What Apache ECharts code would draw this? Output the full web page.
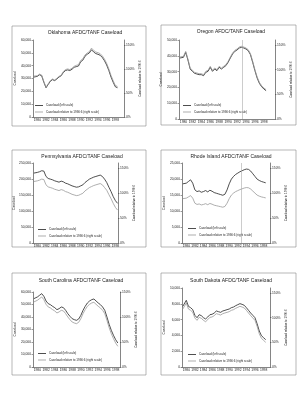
<!DOCTYPE html>
<html><head><meta charset="utf-8">
<script src="https://cdn.jsdelivr.net/npm/echarts@6/dist/echarts.min.js"></script>
<style>html,body{margin:0;padding:0;background:#fff}#c{width:305px;height:400px}</style>
</head><body><div id="c"></div>
<script>
// ---- data ----
const years = [1979.2,1980,1980.5,1981,1981.5,1982,1982.5,1983,1983.5,1984,1984.5,1985,1985.5,1986,1986.5,1987,1987.5,1988,1988.5,1989,1989.5,1990,1990.5,1991,1991.5,1992,1992.5,1993,1993.5,1994,1994.5,1995,1995.5,1996,1996.5,1997,1997.5,1998,1998.5];
const tickYears = [1980,1982,1984,1986,1988,1990,1992,1994,1996,1998];
const seriesNames = ['Caseload (left scale)','Caseload relative to 1990:6 (right scale)'];
const titles = ['Oklahoma AFDC/TANF Caseload','Oregon AFDC/TANF Caseload','Pennsylvania AFDC/TANF Caseload','Rhode Island AFDC/TANF Caseload','South Carolina AFDC/TANF Caseload','South Dakota AFDC/TANF Caseload'];

const okCaseload = [31100,31650,32900,32150,27100,22800,25300,27850,29100,28350,29600,31150,32150,34700,36200,36700,36200,37200,38750,39250,39750,43050,44300,47350,48850,49900,52400,50650,49400,48850,48100,46350,43800,40500,36200,31150,27100,23550,22800];
const okRelative = [85.0,85.7,89.1,87.1,73.6,62.1,68.9,75.6,79.0,77.0,80.3,84.4,87.1,94.5,98.6,99.9,98.6,101.3,105.3,107.3,108.7,117.5,120.8,128.9,133.0,135.7,143.1,138.4,135.0,133.7,131.6,126.9,120.2,111.4,99.9,86.4,75.6,65.5,63.5];

const orCaseload = [38600,39040,42200,37350,31650,30170,28910,28490,28060,28060,27430,29540,30170,32710,30170,31650,30600,32710,31650,32710,33760,35870,38610,41150,42830,43680,44940,45370,44940,44310,43260,40720,35870,30600,25950,22580,20470,18990,17940];
const orRelative = [125.6,126.9,137.0,121.5,103.3,98.6,94.5,93.2,91.8,91.8,89.8,96.5,98.6,106.7,98.6,103.3,99.9,106.7,103.3,106.7,110.0,116.8,125.6,133.7,139.1,141.8,145.8,147.2,145.8,143.8,140.4,132.3,116.8,99.9,85.1,74.3,67.5,62.8,59.4];

const paCaseload = [218500,220600,222700,225800,224800,208000,201700,199600,197500,194300,192200,190100,193300,191200,187000,184900,181700,178600,176500,174400,175400,178600,181700,189100,194300,199600,202700,205900,208000,210100,212200,208000,199600,189100,174400,160700,145000,132400,123900];
const paRelative = [123.0,124.3,125.7,127.7,127.0,116.3,112.2,110.9,109.5,107.5,106.2,104.8,106.8,105.5,102.8,101.5,99.5,97.4,96.1,94.8,95.4,97.4,99.5,104.2,107.5,110.9,112.9,114.9,116.3,117.6,118.9,116.3,110.9,105.5,96.8,88.7,79.3,71.2,65.9];

const riCaseload = [18490,18700,19220,19750,18700,16600,16070,16280,15860,16070,16390,15970,16490,16180,15760,15550,15340,15130,14920,15230,16600,18490,19960,20800,21430,21850,22270,22580,22900,23110,23000,22480,21640,20800,19960,19540,19220,19010,18800];
const riRelative = [88.7,89.7,92.2,94.8,89.7,79.6,77.1,78.1,76.1,77.1,78.6,76.6,79.1,77.6,75.6,74.6,73.6,72.6,71.6,73.1,79.6,88.7,95.8,99.8,102.8,104.8,106.8,108.4,109.9,110.9,110.4,107.9,103.8,99.8,95.8,93.7,92.2,91.2,90.2];

const scCaseload = [54670,56010,57340,58670,56540,52810,50670,49870,48540,47470,45870,46670,48010,47470,45340,42670,40540,38670,37870,37340,38400,41340,45340,48540,51210,52810,53870,54410,52810,51210,49870,48010,45340,40010,34140,29340,25340,21870,19200];
const scRelative = [130.1,133.4,136.7,140.1,134.7,125.4,120.1,118.1,114.7,112.1,108.1,110.1,113.4,112.1,106.7,100.1,94.7,90.0,88.0,86.7,89.4,96.7,106.7,114.7,121.4,125.4,128.1,129.4,125.4,121.4,118.1,113.4,106.7,93.4,78.7,66.7,56.7,48.0,41.4];

const sdCaseload = [7680,8440,7680,7510,7260,6540,6240,6620,6500,6240,6080,6330,6620,6670,6830,7090,7000,6920,7090,7170,7260,7340,7510,7590,7760,7890,8020,7930,7810,7510,7170,6830,6540,6240,5480,4560,3970,3710,3460];
const sdRelative = [117.5,129.6,117.5,114.8,110.7,99.2,94.5,100.6,98.6,94.5,91.8,95.9,100.6,101.3,104.0,108.0,106.7,105.3,108.0,109.4,110.7,112.1,114.8,116.1,118.8,120.8,122.9,121.5,119.5,114.8,109.4,104.0,99.2,94.5,82.4,67.5,58.1,54.0,50.0];

const caseloads = [okCaseload, orCaseload, paCaseload, riCaseload, scCaseload, sdCaseload];
const relatives = [okRelative, orRelative, paRelative, riRelative, scRelative, sdRelative];
const leftMax = [60000, 50000, 250000, 25000, 60000, 10000];
const leftStep = [10000, 10000, 50000, 5000, 10000, 2000];
const rightMax = [160, 160, 160, 160, 150, 160];
const xMax = [2000, 2000.5, 1998.6, 1999.5, 1999, 1999.5];
const refLine = [null, 1993.1, null, 1992.8, null, null];

// ---- layout ----
const FONT = 'Liberation Sans, Arial, sans-serif';
const layout = [
  {grid:{left:33,top:40,width:91,height:77}, box:[12,26,134,100], title:[85,32.5], legend:[35,104], ln:13, rn:14},
  {grid:{left:179,top:40,width:96,height:79}, box:[161,25,135,100], title:[231,31.7], legend:[183,104], ln:12, rn:13},
  {grid:{left:33,top:163,width:85,height:80}, box:[12,150,134,97], title:[82,156.7], legend:[38,228], ln:13, rn:13.5},
  {grid:{left:182,top:163,width:88,height:80}, box:[161,150,135,97], title:[231,156.7], legend:[188,227], ln:14.5, rn:12},
  {grid:{left:33,top:292,width:87,height:75}, box:[12,273,134,102], title:[81,281], legend:[38,352], ln:13, rn:11},
  {grid:{left:182,top:288,width:88,height:79}, box:[161,273,135,102], title:[231,281], legend:[188,353], ln:14.5, rn:12}
];

const fmt = v => v.toLocaleString('en-US');
const grids=[], xAxes=[], yAxes=[], series=[], legends=[], graphics=[];
const axisLine = {show:true, lineStyle:{color:'#333', width:0.6}};
const labelStyle = {fontSize:3.3, color:'#222', fontFamily:FONT};

layout.forEach((L, i) => {
  grids.push(Object.assign({containLabel:false}, L.grid));
  xAxes.push({
    gridIndex:i, type:'value', min:1979, max:xMax[i], interval:1,
    axisLine:axisLine, splitLine:{show:false},
    axisTick:{show:false},
    axisLabel:Object.assign({margin:2, hideOverlap:false,
      formatter: v => tickYears.indexOf(v) >= 0 ? String(v) : ''}, labelStyle)
  });
  yAxes.push({
    gridIndex:i, type:'value', position:'left', min:0, max:leftMax[i], interval:leftStep[i],
    axisLine:axisLine, splitLine:{show:false},
    axisTick:{show:true, length:1.5, lineStyle:{color:'#333', width:0.5}},
    axisLabel:Object.assign({margin:2, formatter:fmt}, labelStyle),
    name:'Caseload', nameLocation:'middle', nameGap:L.ln,
    nameTextStyle:{fontSize:3.3, color:'#222', fontFamily:FONT}
  });
  yAxes.push({
    gridIndex:i, type:'value', position:'right', min:0, max:rightMax[i], interval:50,
    axisLine:axisLine, splitLine:{show:false},
    axisTick:{show:true, length:1.5, lineStyle:{color:'#333', width:0.5}},
    axisLabel:Object.assign({margin:2, formatter:'{value}%', showMaxLabel: rightMax[i] % 50 === 0}, labelStyle),
    name:'Caseload relative to 1990:6', nameLocation:'middle', nameGap:L.rn,
    nameTextStyle:{fontSize:3, color:'#222', fontFamily:FONT}
  });
  const black = {
    name:seriesNames[0], type:'line', xAxisIndex:i, yAxisIndex:2*i,
    data: years.map((y,k)=>[y, caseloads[i][k]]),
    symbol:'none', smooth:false, silent:true, animation:false,
    lineStyle:{color:'#222', width:0.8}, itemStyle:{color:'#222'}
  };
  if (refLine[i] !== null) {
    black.markLine = {symbol:'none', silent:true, animation:false, label:{show:false},
      lineStyle:{color:'#aaa', width:0.6, type:'solid'}, data:[{xAxis:refLine[i]}]};
  }
  series.push(black);
  series.push({
    name:seriesNames[1], type:'line', xAxisIndex:i, yAxisIndex:2*i+1,
    data: years.map((y,k)=>[y, relatives[i][k]]),
    symbol:'none', smooth:false, silent:true, animation:false,
    lineStyle:{color:'#999', width:0.8}, itemStyle:{color:'#999'}
  });
  legends.push({
    data:seriesNames, left:L.legend[0], top:L.legend[1], orient:'vertical',
    icon:'rect', itemWidth:8, itemHeight:0.8, itemGap:3.5, padding:0, selectedMode:false,
    textStyle:{fontSize:3, color:'#222', fontFamily:FONT, padding:[0,0,0,-2]}
  });
  graphics.push({type:'rect', silent:true,
    shape:{x:L.box[0], y:L.box[1], width:L.box[2], height:L.box[3]},
    style:{fill:'none', stroke:'#888', lineWidth:0.6}});
  graphics.push({type:'text', silent:true, x:L.title[0], y:L.title[1],
    style:{text:titles[i], fontSize:5, fontFamily:FONT, fill:'#222',
      align:'center', verticalAlign:'middle', textAlign:'center', textVerticalAlign:'middle'}});
});

const chart = echarts.init(document.getElementById('c'), null, {renderer:'canvas'});
chart.setOption({
  backgroundColor:'#fff', animation:false,
  grid:grids, xAxis:xAxes, yAxis:yAxes, series:series, legend:legends, graphic:graphics
});
</script></body></html>
